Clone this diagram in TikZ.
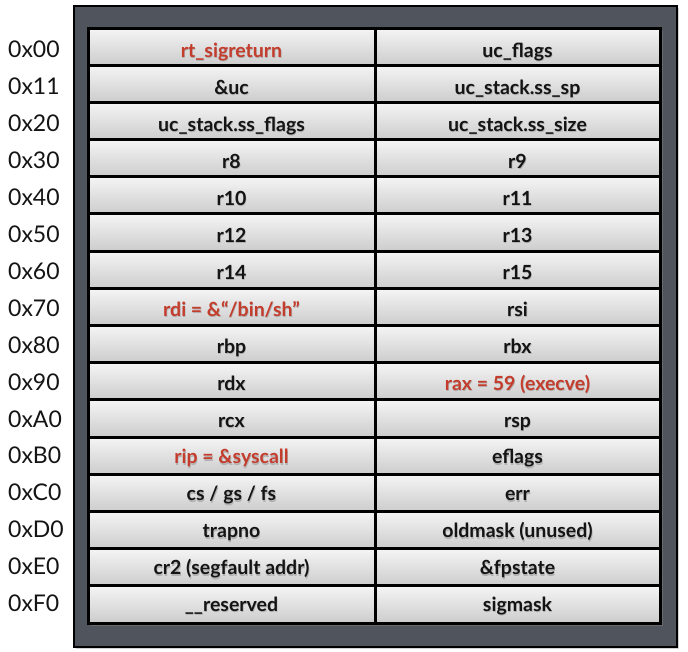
\documentclass[tikz,border=0pt]{standalone}
\usepackage{fontspec}
\setmainfont{Lato}
\usetikzlibrary{shadows}
\definecolor{panelgray}{HTML}{50545C}
\definecolor{hilite}{HTML}{C43C2C}
\definecolor{ink}{HTML}{141414}
\newcommand\rowh{37.19}
\newcommand\shtxt[1]{\makebox[0pt][l]{\raisebox{-1.2pt}{\hspace{0.6pt}\textcolor{black!30}{#1}}}#1}
\newcommand\memrow[6]{%
  \pgfmathsetmacro\yc{28+\rowh*(#1+0.5)}%
  \pgfmathsetmacro\yb{57.5+36.95*#1}%
  \node[cellbox,minimum width=287pt] (l#1) at (231.5,\yc) {};
  \node[cellbox,minimum width=285pt] (r#1) at (517.5,\yc) {};
  \node[addrlabel] (a#1) at (8,\yb) {#2};
  \node[celltext,text=#5] (lt#1) at (l#1.center |- 0,\yb) {\shtxt{#3}};
  \node[celltext,text=#6] (rt#1) at (r#1.center |- 0,\yb) {\shtxt{#4}};
}
\begin{document}
\begin{tikzpicture}[x=1pt,y=-1pt,
  cellbox/.style={draw=black, line width=3pt, minimum height=37.19pt, inner sep=0pt,
    top color=black!4, bottom color=black!20},
  celltext/.style={anchor=base, inner sep=0pt, font=\fontsize{19.5}{21}\selectfont\bfseries},
  addrlabel/.style={anchor=base west, inner sep=0pt, text=ink, font=\fontsize{23}{25}\selectfont},
  panelbox/.style={fill=panelgray, draw=black, line width=2pt,
    drop shadow={shadow xshift=2pt, shadow yshift=-2pt, opacity=0.35}},
  tablebox/.style={fill=black, drop shadow={shadow xshift=3pt, shadow yshift=-3pt, opacity=0.5}}
]
\useasboundingbox (0,0) rectangle (688,651);
\path[panelbox] (74,6) rectangle (677,647);
\path[tablebox] (88,28) rectangle (660,623);
\memrow{0}{0x00}{rt\_sigreturn}{uc\_flags}{hilite}{ink}
\memrow{1}{0x11}{\&uc}{uc\_stack.ss\_sp}{ink}{ink}
\memrow{2}{0x20}{uc\_stack.ss\_flags}{uc\_stack.ss\_size}{ink}{ink}
\memrow{3}{0x30}{r8}{r9}{ink}{ink}
\memrow{4}{0x40}{r10}{r11}{ink}{ink}
\memrow{5}{0x50}{r12}{r13}{ink}{ink}
\memrow{6}{0x60}{r14}{r15}{ink}{ink}
\memrow{7}{0x70}{rdi = \&“/bin/sh”}{rsi}{hilite}{ink}
\memrow{8}{0x80}{rbp}{rbx}{ink}{ink}
\memrow{9}{0x90}{rdx}{rax = 59 (execve)}{ink}{hilite}
\memrow{10}{0xA0}{rcx}{rsp}{ink}{ink}
\memrow{11}{0xB0}{rip = \&syscall}{eflags}{hilite}{ink}
\memrow{12}{0xC0}{cs / gs / fs}{err}{ink}{ink}
\memrow{13}{0xD0}{trapno}{oldmask (unused)}{ink}{ink}
\memrow{14}{0xE0}{cr2 (segfault addr)}{\&fpstate}{ink}{ink}
\memrow{15}{0xF0}{\_\_reserved}{sigmask}{ink}{ink}
\end{tikzpicture}
\end{document}
